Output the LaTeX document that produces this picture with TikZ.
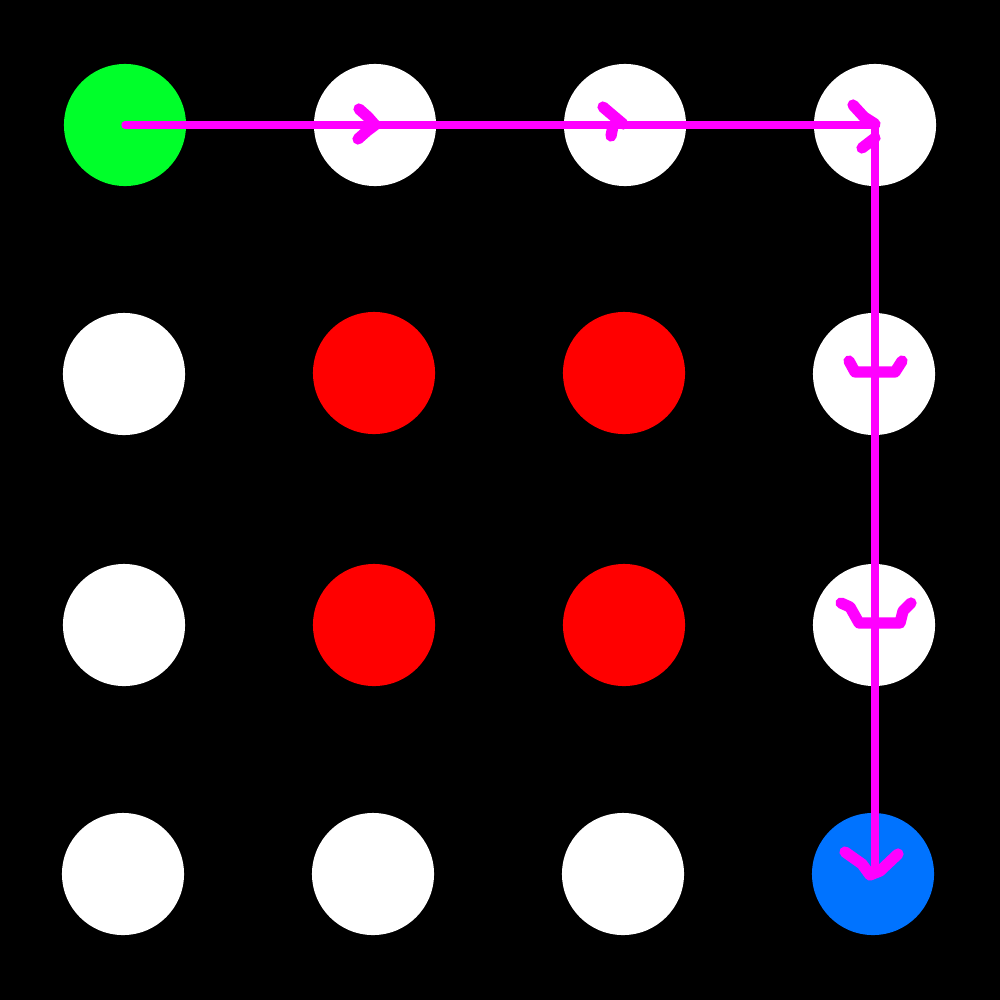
\documentclass[tikz,border=0pt]{standalone}
\definecolor{dgreen}{RGB}{0,255,42}
\definecolor{dred}{RGB}{255,0,0}
\definecolor{dblue}{RGB}{0,115,255}
\definecolor{dmag}{RGB}{255,0,255}
\begin{document}
\begin{tikzpicture}[x=0.01cm,y=-0.01cm,
  dot/.style={circle,minimum size=1.22cm,inner sep=0pt,fill=#1},
  pathline/.style={draw=dmag,line width=2.1pt,line cap=round,line join=round},
  headline/.style={draw=dmag,line width=3.2pt,line cap=round,line join=round}]
\fill[black] (0,0) rectangle (1000,1000);
\useasboundingbox (0,0) rectangle (1000,1000);
% row 1
\node[dot=dgreen] (n11) at (125,125) {};
\node[dot=white] (n12) at (375,125) {};
\node[dot=white] (n13) at (625,125) {};
\node[dot=white] (n14) at (875,125) {};
% row 2
\node[dot=white] (n21) at (124,374) {};
\node[dot=dred] (n22) at (374,373) {};
\node[dot=dred] (n23) at (624,373) {};
\node[dot=white] (n24) at (874,374) {};
% row 3
\node[dot=white] (n31) at (124,625) {};
\node[dot=dred] (n32) at (374,625) {};
\node[dot=dred] (n33) at (624,625) {};
\node[dot=white] (n34) at (874,625) {};
% row 4
\node[dot=white] (n41) at (123,874) {};
\node[dot=white] (n42) at (373,874) {};
\node[dot=white] (n43) at (623,874) {};
\node[dot=dblue] (n44) at (873,874) {};
% path
\coordinate (corner) at (875,125);
\coordinate (endpt) at (875,870);
\draw[pathline] (n11.center) -- (corner) -- (endpt);
% hand-drawn arrowheads
\draw[headline] (359,109) -- (368,117) -- (375,125) -- (367,131) -- (358,139);
\draw[headline] (603,107) -- (610,113) -- (623,124);
\draw[headline] (611,136) -- (613,126);
\draw[headline] (853,105) -- (864,117) -- (875,124);
\draw[headline] (862,148) -- (875,138);
\draw[headline] (849,361) -- (855,372) -- (895,372) -- (902,361);
\draw[headline] (841,603) -- (850,607) -- (859,623) -- (900,623) -- (903,611) -- (911,603);
\draw[headline] (845,852) -- (862,864) -- (870,875) -- (880,871) -- (898,854);
\end{tikzpicture}
\end{document}
